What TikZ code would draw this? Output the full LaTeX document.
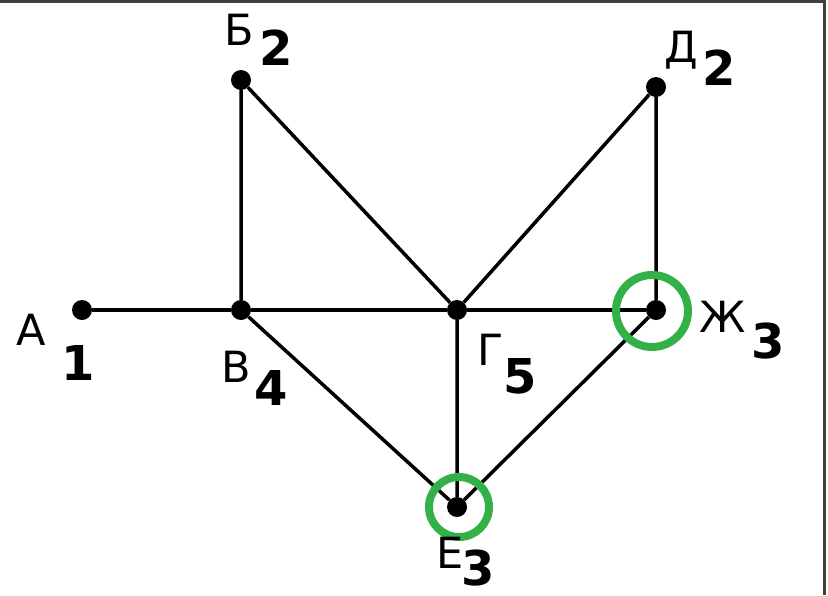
\documentclass[tikz,border=0pt]{standalone}
\usepackage{fontspec}
\setmainfont{DejaVu Sans}
\definecolor{ringgreen}{RGB}{52,176,72}
\begin{document}
\begin{tikzpicture}[x=1pt, y=-1pt,
		vert/.style={circle, fill=black, inner sep=0pt, minimum size=20pt},
		lett/.style={anchor=base, inner sep=0pt, font=\fontsize{43}{43}\selectfont},
		num/.style={anchor=base, inner sep=0pt, font=\fontsize{48}{48}\selectfont\bfseries},
		ring/.style={draw=ringgreen, line width=8pt}]
		\useasboundingbox (0,0) rectangle (828,595);
		\draw[line width=3pt, black!75] (0,1.5) -- (824.5,1.5) -- (824.5,595);
		% vertices
		\node[vert] (A) at (82,310) {};
		\node[vert] (B) at (241,80) {};
		\node[vert] (V) at (241,310) {};
		\node[vert] (G) at (457,310) {};
		\node[vert] (D) at (656,87) {};
		\node[vert] (Zh) at (656,310) {};
		\node[vert] (E) at (457,507) {};
		% edges
		\draw[line width=3.5pt] (A) -- (V) -- (G) -- (Zh);
		\draw[line width=3.5pt] (B) -- (V) -- (E) -- (G) -- (B);
		\draw[line width=3.5pt] (G) -- (D) -- (Zh) -- (E);
		% rings
		\draw[ring] (652,311) circle (36);
		\draw[ring] (459,507) circle (30);
		% labels
		\node[lett] (lA) at (31,345) {А};
		\node[num] (nA) at (78,380) {1};
		\node[lett] (lB) at (239,45) {Б};
		\node[num] (nB) at (276,65) {2};
		\node[lett] (lV) at (236,382) {В};
		\node[num] (nV) at (271,405) {4};
		\node[lett] (lG) at (491,365) {Г};
		\node[num] (nG) at (520,393) {5};
		\node[lett] (lD) at (681,62) {Д};
		\node[num] (nD) at (719,85) {2};
		\node[lett] (lZh) at (723,332) {Ж};
		\node[num] (nZh) at (768,358) {3};
		\node[lett] (lE) at (450,568) {Е};
		\node[num] (nE) at (478,585) {3};
	\end{tikzpicture}
\end{document}
